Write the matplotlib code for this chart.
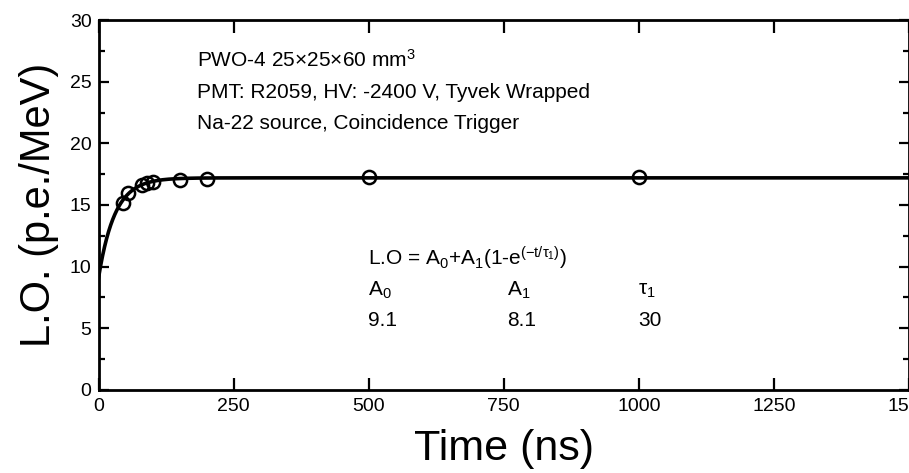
import numpy as np
import matplotlib.pyplot as plt
from matplotlib import font_manager

# measured light output vs. integration gate
time_ns = [45, 55, 80, 90, 100, 150, 200, 500, 1000]
light_output = [15.2, 16.0, 16.6, 16.75, 16.9, 17.05, 17.1, 17.25, 17.25]

# fit parameters
A0, A1, tau1 = 9.1, 8.1, 30

x_ticks = [0, 250, 500, 750, 1000, 1250, 1500]
y_ticks = [0, 5, 10, 15, 20, 25, 30]

plt.rcParams['font.family'] = ['Liberation Sans', 'DejaVu Sans']
plt.rcParams['mathtext.fontset'] = 'custom'
plt.rcParams['mathtext.rm'] = 'Liberation Sans'
plt.rcParams['mathtext.it'] = 'Liberation Sans'
plt.rcParams['mathtext.bf'] = 'Liberation Sans:bold'

# narrow face for the tick numbers if it exists
names = {f.name for f in font_manager.fontManager.ttflist}
narrow = 'Liberation Sans Narrow' in names
tick_font = 'Liberation Sans Narrow' if narrow else 'Liberation Sans'
tick_size = 16 if narrow else 14

fig = plt.figure(figsize=(9.09, 4.73), dpi=100)
ax = fig.add_axes([0.1084, 0.1755, 0.8916, 0.7822])

t = np.linspace(0, 1500, 2000)
ax.plot(t, A0 + A1 * (1 - np.exp(-t / tau1)), color='black', lw=2.6, zorder=2)
ax.plot(time_ns, light_output, 'o', mfc='none', mec='black', mew=1.8, ms=9.5, zorder=3)

ax.set_xlim(0, 1500)
ax.set_ylim(0, 30)
ax.set_xticks(x_ticks)
ax.set_yticks(y_ticks)
ax.set_yticks([2.5, 7.5, 12.5, 17.5, 22.5, 27.5], minor=True)
ax.set_xticklabels([str(v) for v in x_ticks], fontfamily=tick_font, fontsize=tick_size)
ax.set_yticklabels([str(v) for v in y_ticks], fontfamily=tick_font, fontsize=tick_size)
ax.tick_params(which='both', direction='in', top=True, right=True, width=1.6)
ax.tick_params(axis='x', which='major', length=9, pad=6)
ax.tick_params(axis='y', which='major', length=7, pad=5)
ax.tick_params(which='minor', length=4)
for s in ax.spines.values():
    s.set_linewidth(2)

ax.set_xlabel('Time (ns)', fontsize=31, labelpad=10)
ax.set_ylabel('L.O. (p.e./MeV)', fontsize=30, labelpad=8)

fs = 15
ax.text(0.1215, 0.892, r'PWO-4 25$\times$25$\times$60 mm$^3$', transform=ax.transAxes, fontsize=fs, va='center')
ax.text(0.1215, 0.805, 'PMT: R2059, HV: -2400 V, Tyvek Wrapped', transform=ax.transAxes, fontsize=fs, va='center')
ax.text(0.1215, 0.719, 'Na-22 source, Coincidence Trigger', transform=ax.transAxes, fontsize=fs, va='center')

ax.text(0.333, 0.357, r'L.O = A$_0$+A$_1$(1-e$^{(-t/\tau_1)}$)', transform=ax.transAxes, fontsize=fs, va='center')
cols = [0.333, 0.504, 0.666]
heads = [r'A$_0$', r'A$_1$', r'$\tau_1$']
vals = [A0, A1, tau1]
for x, h, v in zip(cols, heads, vals):
    ax.text(x, 0.27, h, transform=ax.transAxes, fontsize=fs, va='center')
    ax.text(x, 0.189, f'{v:g}', transform=ax.transAxes, fontsize=fs, va='center')

fig.savefig('out.png', dpi=100)
